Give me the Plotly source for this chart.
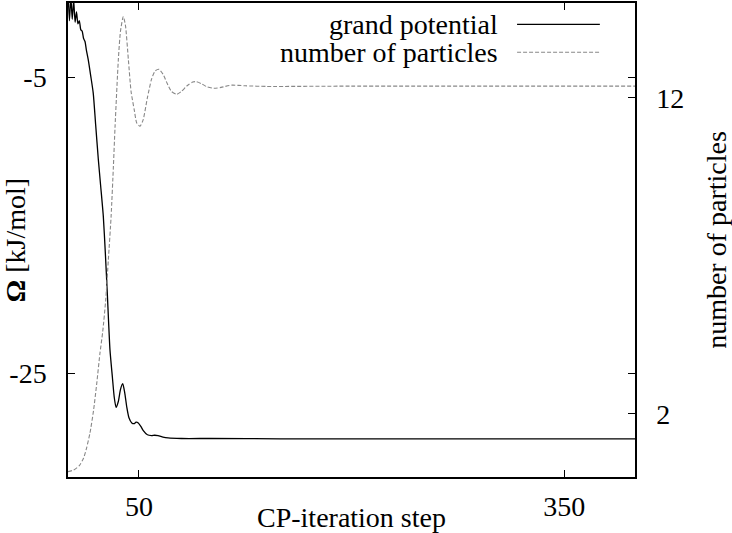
import plotly.graph_objects as go

# Grand potential (left axis)
gp_step = [0, 1, 2, 3, 4, 5, 6, 7, 8, 9, 10, 11, 12, 13, 14.3, 16, 17.8, 19.5, 21.4, 23, 24.9,
           26.3, 27.7, 29.6, 31.3, 32.6, 33.9, 35.5, 37, 38.6, 40, 41.5, 43, 45, 46.6, 48,
           49.6, 51.5, 53, 56, 59, 61, 63.5, 67, 70.6, 80, 100, 150, 250, 400]
gp_val = [0.8, -1.2, 0.4, -1.1, 0.2, -1.3, -0.6, -1.4, -1.2, -1.8, -1.9, -2.4, -2.6, -3.2, -3.84,
          -4.9, -6.08, -8.2, -10.57, -12.3, -14.39, -16.8, -19.53, -23.4, -25.25, -26.6, -27.3,
          -26.9, -26.1, -25.7, -26.3, -27.3, -28.0, -28.35, -28.4, -28.3, -28.35, -28.6, -28.85,
          -29.15, -29.2, -29.18, -29.2, -29.3, -29.36, -29.4, -29.4, -29.42, -29.42, -29.42]

# Number of particles (right axis)
np_step = [0, 4, 8, 11, 13, 15.5, 18, 20.3, 22.5, 24.5, 26.6, 28.5, 30.4, 32, 33.2, 35.5, 37,
           39, 40.5, 42.6, 44.5, 46.8, 48.5, 50.8, 53, 56, 59, 61.5, 64.2, 67, 70, 73, 76.7,
           80, 84, 88, 90.4, 94, 98, 103, 108, 115.5, 125, 140, 200, 400]
np_val = [0.17, 0.22, 0.36, 0.6, 0.9, 1.39, 2.1, 2.97, 3.9, 4.6, 5.6, 6.9, 8.24, 9.8, 11.09,
          13.2, 14.1, 14.57, 14.3, 13.2, 12.2, 11.6, 11.2, 11.1, 11.3, 12.0, 12.6, 12.85, 12.9,
          12.75, 12.45, 12.2, 12.11, 12.2, 12.38, 12.5, 12.51, 12.45, 12.35, 12.3, 12.33, 12.4,
          12.38, 12.36, 12.37, 12.37]

x_ticks = [50, 350]
x_ticklabels = ["50", "350"]
y_ticks = [-5, -25]
y_ticklabels = ["-5", "-25"]
y2_ticks = [2, 12]
y2_ticklabels = ["2", "12"]
legend_labels = ["grand potential", "number of particles"]

FONT = "Liberation Serif"
FS = 28

fig = go.Figure()
fig.add_trace(go.Scatter(x=gp_step, y=gp_val, mode="lines", name=legend_labels[0],
                         line=dict(color="black", width=1.3, shape="spline", smoothing=0.6),
                         showlegend=False))
fig.add_trace(go.Scatter(x=np_step, y=np_val, mode="lines", name=legend_labels[1], yaxis="y2",
                         line=dict(color="#888888", width=1.1, dash="4px,2px", shape="spline",
                                   smoothing=0.6),
                         showlegend=False))

# custom legend (text left, sample line right)
for i, (lab, col, dash) in enumerate(zip(legend_labels, ["black", "#888888"], ["solid", "4px,2px"])):
    yy = 0.955 - i * 0.059
    fig.add_annotation(x=0.762, y=yy, xref="paper", yref="paper", text=lab, showarrow=False,
                       xanchor="right", yanchor="middle",
                       font=dict(family=FONT, size=FS, color="black"))
    fig.add_shape(type="line", xref="paper", yref="paper", x0=0.792, x1=0.938, y0=yy, y1=yy,
                  line=dict(color=col, width=1.3 if i == 0 else 1.1, dash=dash))

axis_common = dict(showline=True, linecolor="black", linewidth=1.5, ticks="inside", ticklen=7,
                   tickcolor="black", tickwidth=1, showgrid=False, zeroline=False,
                   automargin=False,
                   tickfont=dict(family=FONT, size=FS, color="black"))

fig.update_layout(
    width=732, height=533,
    margin=dict(l=68, r=97, t=3, b=56),
    paper_bgcolor="white", plot_bgcolor="white",
    font=dict(family=FONT, size=FS, color="black"),
    xaxis=dict(range=[0, 400], tickvals=x_ticks, ticktext=x_ticklabels, mirror="ticks",
               ticklabelstandoff=4,
               title=dict(text="CP-iteration step", standoff=0,
                          font=dict(family=FONT, size=FS)), **axis_common),
    yaxis=dict(range=[-32, 0], tickvals=y_ticks, ticktext=y_ticklabels, mirror="ticks",
               ticklabelstandoff=14,
               title=dict(text="<b>Ω</b> [kJ/mol]", standoff=10, font=dict(family=FONT, size=FS)),
               **axis_common),
    yaxis2=dict(range=[0, 15], tickvals=y2_ticks, ticktext=y2_ticklabels, overlaying="y",
                side="right", ticklabelstandoff=14,
                title=dict(text="number of particles", standoff=30,
                           font=dict(family=FONT, size=FS)),
                **axis_common),
)

fig.write_html("out.html", config={"displayModeBar": False},
               post_script="document.body.style.margin='0';")
